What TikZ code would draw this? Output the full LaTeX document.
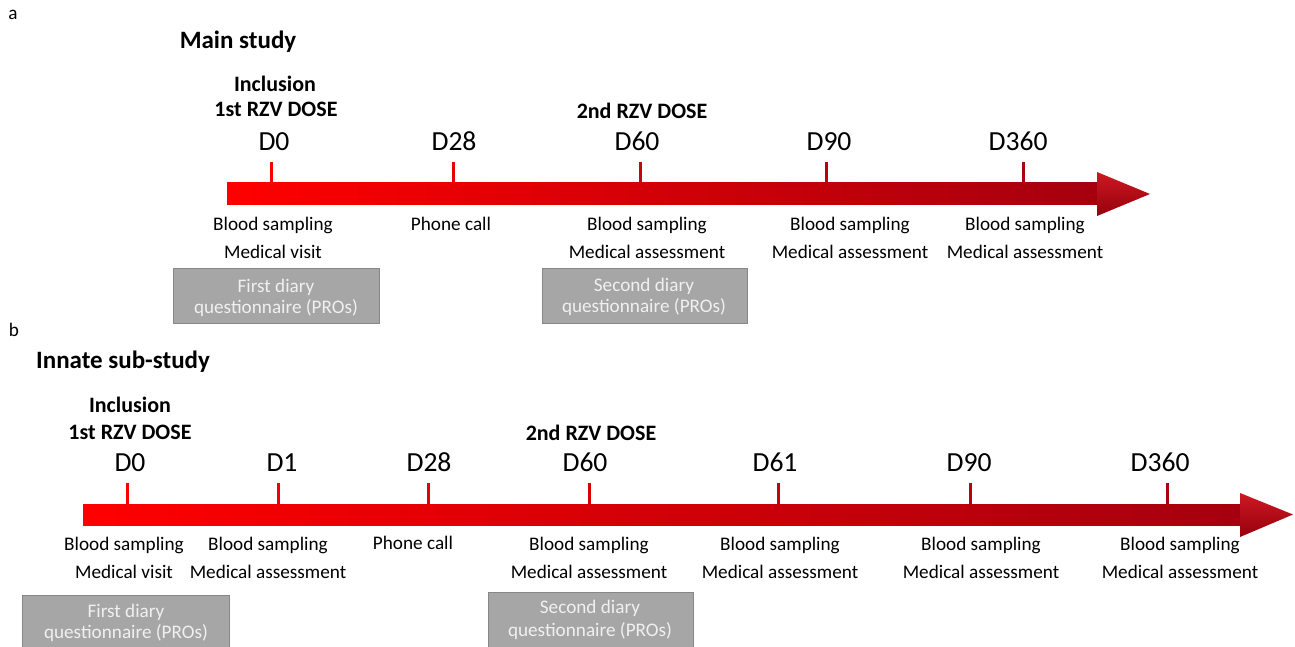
\documentclass[tikz,border=0pt]{standalone}
\usepackage{fontspec}
\setmainfont{Carlito}
\definecolor{arrowL}{RGB}{255,0,0}
\definecolor{arrowR}{RGB}{165,0,15}
\definecolor{headTop}{RGB}{205,25,35}
\definecolor{headBot}{RGB}{150,0,12}
\definecolor{boxFill}{RGB}{166,166,166}
\definecolor{boxLine}{RGB}{135,135,135}
\definecolor{boxText}{RGB}{240,240,240}
\newcommand\fsN{\fontsize{19.2}{28}\selectfont}
\newcommand\fsD{\fontsize{27.6}{30}\selectfont}
\newcommand\fsB{\fontsize{22}{27}\selectfont\bfseries}
\newcommand\fsH{\fontsize{25}{30}\selectfont\bfseries}
\tikzset{
  txt/.style={inner sep=0pt, anchor=base, font=\fsN, text=black},
  dlab/.style={inner sep=0pt, anchor=base, font=\fsD, text=black},
  blab/.style={inner sep=0pt, anchor=base, font=\fsB, text=black},
  head/.style={inner sep=0pt, anchor=base, font=\fsH, text=black},
  boxtxt/.style={inner sep=0pt, anchor=base, font=\fsN, text=boxText},
  pro/.style={fill=boxFill, draw=boxLine, line width=0.8pt},
  tick/.style={line width=3pt}
}
\begin{document}
\begin{tikzpicture}[x=1pt,y=-1pt]
\clip (0,0) rectangle (1295,647);
\fill[white] (0,0) rectangle (1295,647);

% ===== Panel a =====
\node[txt] (la) at (13,19.5) {a};
\node[head] (ha) at (238,48.5) {Main study};

% arrow
\shade[left color=arrowL, right color=arrowR] (227,183) rectangle (1098,205);
\shade[top color=headTop, bottom color=headBot] (1097,172) -- (1150,194) -- (1097,216) -- cycle;
\draw[tick, color=arrowL!95!arrowR] (271,162) -- (271,184);
\draw[tick, color=arrowL!74!arrowR] (453,162) -- (453,184);
\draw[tick, color=arrowL!45!arrowR] (640,162) -- (640,184);
\draw[tick, color=arrowL!25!arrowR] (826,162) -- (826,184);
\draw[tick, color=arrowL!8!arrowR] (1023,162) -- (1023,184);

\node[blab] (aInc) at (275,91.5) {Inclusion};
\node[blab] (aDose1) at (276,117) {1st RZV DOSE};
\node[blab] (aDose2) at (642,119) {2nd RZV DOSE};

\node[dlab] (aD0) at (274,151) {D0};
\node[dlab] (aD28) at (454,151) {D28};
\node[dlab] (aD60) at (637,151) {D60};
\node[dlab] (aD90) at (829,151) {D90};
\node[dlab] (aD360) at (1018,151) {D360};

\node[txt] (a0a) at (273,230) {Blood sampling};
\node[txt] (a0b) at (273,258) {Medical visit};
\node[txt] (a28a) at (451,230) {Phone call};
\node[txt] (a60a) at (647,230) {Blood sampling};
\node[txt] (a60b) at (647,258) {Medical assessment};
\node[txt] (a90a) at (850,230) {Blood sampling};
\node[txt] (a90b) at (850,258) {Medical assessment};
\node[txt] (a360a) at (1025,230) {Blood sampling};
\node[txt] (a360b) at (1025,258) {Medical assessment};

\draw[pro] (173,268) rectangle (379,323);
\node[boxtxt] (aB1a) at (276,292) {First diary};
\node[boxtxt] (aB1b) at (276,313) {questionnaire (PROs)};
\draw[pro] (542,268) rectangle (747,323);
\node[boxtxt] (aB2a) at (644,291) {Second diary};
\node[boxtxt] (aB2b) at (644,312) {questionnaire (PROs)};

% ===== Panel b =====
\node[txt] (lb) at (14,336) {b};
\node[head] (hb) at (123,368.5) {Innate sub-study};

\shade[left color=arrowL, right color=arrowR] (83,504) rectangle (1241,525);
\shade[top color=headTop, bottom color=headBot] (1240,493) -- (1293,514.5) -- (1240,537) -- cycle;
\draw[tick, color=arrowL!96!arrowR] (127,483) -- (127,505);
\draw[tick, color=arrowL!83!arrowR] (278,483) -- (278,505);
\draw[tick, color=arrowL!70!arrowR] (428,483) -- (428,505);
\draw[tick, color=arrowL!55!arrowR] (589,483) -- (589,505);
\draw[tick, color=arrowL!38!arrowR] (778,483) -- (778,505);
\draw[tick, color=arrowL!22!arrowR] (970,483) -- (970,505);
\draw[tick, color=arrowL!5!arrowR] (1167,483) -- (1167,505);

\node[blab] (bInc) at (130,412.5) {Inclusion};
\node[blab] (bDose1) at (130,439) {1st RZV DOSE};
\node[blab] (bDose2) at (591,440) {2nd RZV DOSE};

\node[dlab] (bD0) at (130,471) {D0};
\node[dlab] (bD1) at (282,471) {D1};
\node[dlab] (bD28) at (429,471) {D28};
\node[dlab] (bD60) at (585,471) {D60};
\node[dlab] (bD61) at (775,471) {D61};
\node[dlab] (bD90) at (969,471) {D90};
\node[dlab] (bD360) at (1160,471) {D360};

\node[txt] (b0a) at (124,550) {Blood sampling};
\node[txt] (b0b) at (124,578) {Medical visit};
\node[txt] (b1a) at (268,550) {Blood sampling};
\node[txt] (b1b) at (268,578) {Medical assessment};
\node[txt] (b28a) at (413,549) {Phone call};
\node[txt] (b60a) at (589,550) {Blood sampling};
\node[txt] (b60b) at (589,578) {Medical assessment};
\node[txt] (b61a) at (780,550) {Blood sampling};
\node[txt] (b61b) at (780,578) {Medical assessment};
\node[txt] (b90a) at (981,550) {Blood sampling};
\node[txt] (b90b) at (981,578) {Medical assessment};
\node[txt] (b360a) at (1180,550) {Blood sampling};
\node[txt] (b360b) at (1180,578) {Medical assessment};

\draw[pro] (22,595) rectangle (229,652);
\node[boxtxt] (bB1a) at (126,617) {First diary};
\node[boxtxt] (bB1b) at (126,638) {questionnaire (PROs)};
\draw[pro] (488,592) rectangle (693,652);
\node[boxtxt] (bB2a) at (590,613) {Second diary};
\node[boxtxt] (bB2b) at (590,636) {questionnaire (PROs)};
\end{tikzpicture}
\end{document}
